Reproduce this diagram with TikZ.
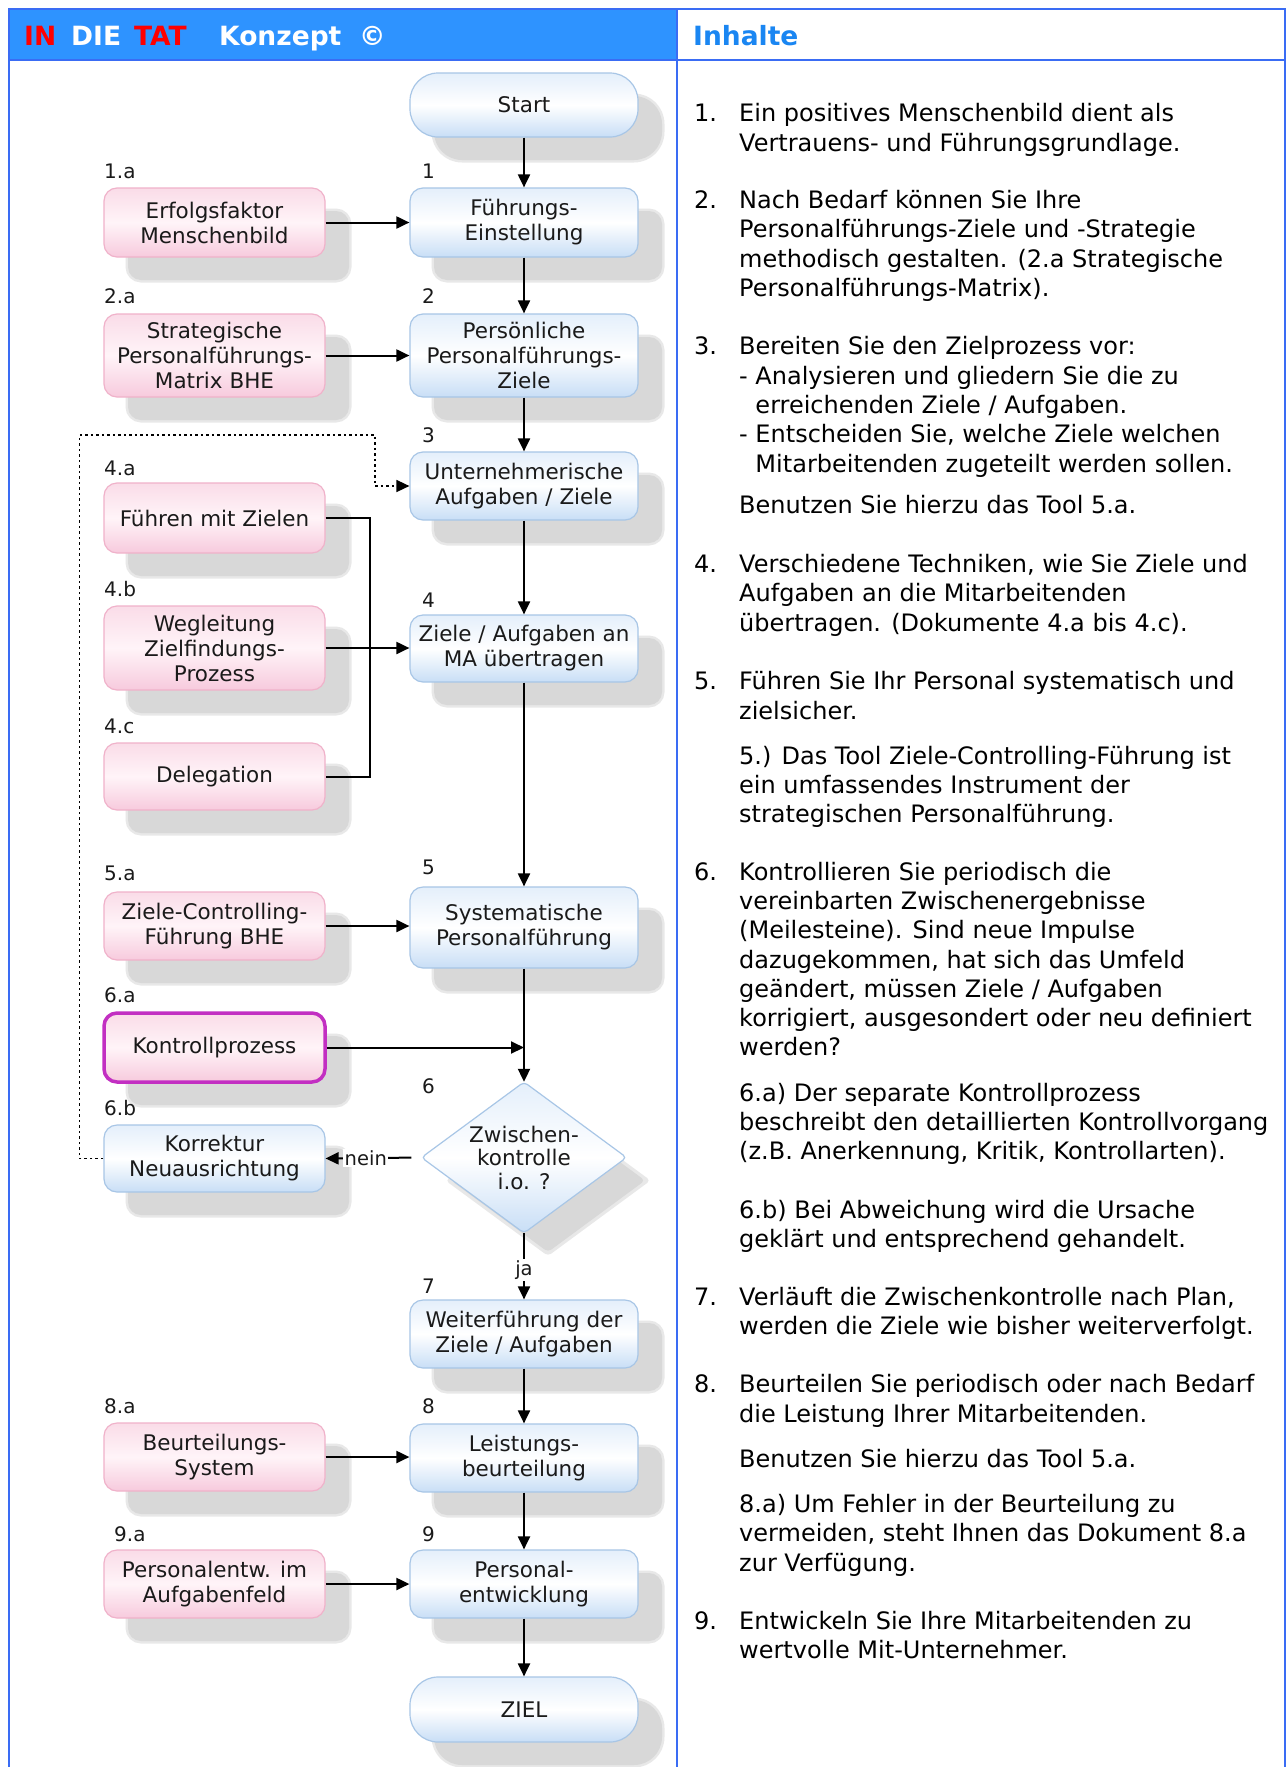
\documentclass[tikz,border=0pt]{standalone}
\usepackage{fontspec}
\setmainfont{DejaVu Sans}
\usetikzlibrary{arrows.meta,calc,shadows}
\definecolor{hdrblue}{HTML}{2E93FF}
\definecolor{framebl}{HTML}{3A6CF4}
\definecolor{inhblue}{HTML}{1A86F2}
\definecolor{blueT}{HTML}{E4EFFB}
\definecolor{blueB}{HTML}{C8DEF6}
\definecolor{blueD}{HTML}{A8C6E6}
\definecolor{pinkT}{HTML}{FADCE8}
\definecolor{pinkM}{HTML}{FFF4F8}
\definecolor{pinkB}{HTML}{F7CADD}
\definecolor{pinkD}{HTML}{F0B2CA}
\definecolor{shadc}{HTML}{D8D8D8}
\definecolor{shadl}{HTML}{E8E8E8}
\definecolor{magb}{HTML}{C22FC2}
\definecolor{txt}{HTML}{1A1A1A}
\begin{document}
\begin{tikzpicture}[x=1pt,y=-1pt,
  dtext/.style={font=\fontsize{21.5}{25}\selectfont, text=txt, align=center, inner sep=0pt},
  lbl/.style={font=\fontsize{20}{22}\selectfont, text=txt, inner sep=0pt, anchor=base west},
  shadowed/.style={drop shadow={shadow xshift=24pt, shadow yshift=-23pt, fill=shadl, draw=shadl, line width=5pt, opacity=1},
                   drop shadow={shadow xshift=24pt, shadow yshift=-23pt, fill=shadc, opacity=1}},
  bluebox/.style={dtext, shadowed, rectangle, rounded corners=13pt, draw=blueD, line width=1.2pt,
                  top color=blueT, bottom color=blueB, middle color=white, minimum width=228pt, minimum height=68pt},
  pinkbox/.style={dtext, shadowed, rectangle, rounded corners=13pt, draw=pinkD, line width=1.2pt,
                  top color=pinkT, bottom color=pinkB, middle color=pinkM, minimum width=221pt, minimum height=68pt},
  capsule/.style={bluebox, rounded corners=28pt},
  conn/.style={draw=black, line width=2pt, -{Triangle[length=13pt,width=12pt]}},
  plainline/.style={draw=black, line width=2pt},
  dotconn/.style={draw=black, line width=1.6pt, dash pattern=on 2.5pt off 3pt, -{Triangle[length=13pt,width=12pt]}},
  hdr/.style={font=\fontsize{26.5}{30}\selectfont\bfseries, inner sep=0pt, anchor=base west},
  rtext/.style={font=\fontsize{24}{29}\selectfont, text=black, inner sep=0pt, anchor=base west},
  elab/.style={font=\fontsize{19.5}{22}\selectfont, text=txt, fill=white, inner sep=1.5pt}
]
\useasboundingbox (0,0) rectangle (1287,1767);
\fill[white] (0,0) rectangle (1287,1767);

% header and frame
\fill[hdrblue] (9,9) rectangle (677,60);
\draw[framebl, line width=2.5pt] (9,1767) -- (9,9) -- (1285,9) -- (1285,1767);
\draw[framebl, line width=2.5pt] (9,60) -- (1285,60);
\draw[framebl, line width=2.5pt] (677,9) -- (677,1767);
\node[hdr, text=red] (h1) at (24,45) {IN};
\node[hdr, text=white] (h2) at (71,45) {DIE};
\node[hdr, text=red] (h3) at (134,45) {TAT};
\node[hdr, text=white] (h4) at (219,45) {Konzept};
\node[hdr, text=white] (h5) at (359,45) {©};
\node[hdr, text=inhblue] (h6) at (693,45) {Inhalte};

% main column
\node[capsule, minimum height=64pt] (start) at (524,105) {Start};
\node[bluebox, minimum height=69pt] (b1) at (524,222.5) {Führungs-\\Einstellung};
\node[bluebox, minimum height=83pt] (b2) at (524,355.5) {Persönliche\\Personalführungs-\\Ziele};
\node[bluebox, minimum height=68pt] (b3) at (524,486) {Unternehmerische\\Aufgaben / Ziele};
\node[bluebox, minimum height=67pt] (b4) at (524,648.5) {Ziele / Aufgaben an\\MA übertragen};
\node[bluebox, minimum height=81pt] (b5) at (524,927.5) {Systematische\\Personalführung};
% diamond
\fill[shadl, rounded corners=4pt] (548,1105) -- (650.5,1180.5) -- (548,1256) -- (445.5,1180.5) -- cycle;
\fill[shadc, rounded corners=4pt] (548,1109) -- (645,1180.5) -- (548,1252) -- (451,1180.5) -- cycle;
\path[draw=blueD, line width=1.2pt, top color=blueT, bottom color=blueB, middle color=white, rounded corners=4pt]
  (524,1082) -- (626.5,1157.5) -- (524,1233) -- (421.5,1157.5) -- cycle;
\node[dtext, font=\fontsize{21.5}{23.5}\selectfont, minimum width=205pt, minimum height=151pt] (dia) at (524,1157.5) {Zwischen-\\kontrolle\\i.o. ?};
\node[bluebox, minimum height=68pt] (b7) at (524,1334) {Weiterführung der\\Ziele / Aufgaben};
\node[bluebox, minimum height=68pt] (b8) at (524,1458) {Leistungs-\\beurteilung};
\node[bluebox, minimum height=68pt] (b9) at (524,1584) {Personal-\\entwicklung};
\node[capsule, minimum height=65pt] (ziel) at (524,1709.5) {ZIEL};

% left column
\node[pinkbox, minimum height=69pt] (a1) at (214.5,222.5) {Erfolgsfaktor\\Menschenbild};
\node[pinkbox, minimum height=83pt] (a2) at (214.5,355.5) {Strategische\\Personalführungs-\\Matrix BHE};
\node[pinkbox, minimum height=70pt] (a4a) at (214.5,518) {Führen mit Zielen};
\node[pinkbox, minimum height=84pt] (a4b) at (214.5,648) {Wegleitung\\Zielfindungs-\\Prozess};
\node[pinkbox, minimum height=67pt] (a4c) at (214.5,776.5) {Delegation};
\node[pinkbox, minimum height=68pt] (a5) at (214.5,926) {Ziele-Controlling-\\Führung BHE};
\node[pinkbox, draw=magb, line width=3.5pt, minimum height=69pt] (a6) at (214.5,1047.5) {Kontrollprozess};
\node[bluebox, minimum width=221pt, minimum height=67pt] (kor) at (214.5,1158.5) {Korrektur\\Neuausrichtung};
\node[pinkbox, minimum height=68pt] (a8) at (214.5,1457) {Beurteilungs-\\System};
\node[pinkbox, minimum height=68pt] (a9) at (214.5,1584) {Personalentw. im\\Aufgabenfeld};

% number labels
\node[lbl] (l1a) at (104,178) {1.a};
\node[lbl] (l1) at (422,178) {1};
\node[lbl] (l2a) at (104,303) {2.a};
\node[lbl] (l2) at (422,303) {2};
\node[lbl] (l3) at (422,442) {3};
\node[lbl] (l4a) at (104,475) {4.a};
\node[lbl] (l4b) at (104,596) {4.b};
\node[lbl] (l4) at (422,607) {4};
\node[lbl] (l4c) at (104,733) {4.c};
\node[lbl] (l5a) at (104,880) {5.a};
\node[lbl] (l5) at (422,874) {5};
\node[lbl] (l6a) at (104,1002) {6.a};
\node[lbl] (l6) at (422,1093) {6};
\node[lbl] (l6b) at (104,1115) {6.b};
\node[lbl] (l7) at (422,1293) {7};
\node[lbl] (l8a) at (104,1413) {8.a};
\node[lbl] (l8) at (422,1413) {8};
\node[lbl] (l9a) at (114,1541) {9.a};
\node[lbl] (l9) at (422,1541) {9};

% connectors
\draw[conn] (start) -- (b1);
\draw[conn] (b1) -- (b2);
\draw[conn] (b2) -- (b3);
\draw[conn] (b3) -- (b4);
\draw[conn] (b4) -- (b5);
\draw[conn] (b5) -- (dia.north);
\draw[conn] (dia.south) -- node[elab, pos=0.55] {ja} (b7);
\draw[conn] (b7) -- (b8);
\draw[conn] (b8) -- (b9);
\draw[conn] (b9) -- (ziel);
\draw[conn] (a1) -- (b1);
\draw[conn] (a2) -- (b2);
\draw[conn] (a4b.east) -- (a4b.east -| b4.west);
\draw[conn] (a5.east) -- (a5.east -| b5.west);
\draw[conn] (a8.east) -- (a8.east -| b8.west);
\draw[conn] (a9) -- (b9);
\draw[plainline] (a4a.east) -- ++(44,0) |- (a4c.east);
\coordinate (j6) at (b5.south |- a6.east);
\draw[conn] (a6.east) -- (j6);
\draw[conn, shorten <=10pt] (dia.west) -- node[elab, pos=0.58] {nein} (kor.east);
\coordinate (dtop) at (375,435);
\draw[dotconn] (kor.west) -- ++(-24,0) |- (dtop) |- (b3.west);

% right column text
\foreach \n/\c in {1/100,2/177,3/307,4/500,5/604,6/773,7/1150,8/1228,9/1438}
  \node[rtext] (n\n) at (694,{1.127*\c+9}) {\n.};
\foreach \c/\t in {
  100/{Ein positives Menschenbild dient als},
  126/{Vertrauens- und Führungsgrundlage.},
  177/{Nach Bedarf können Sie Ihre},
  203/{Personalführungs-Ziele und -Strategie},
  229/{methodisch gestalten. (2.a Strategische},
  255/{Personalführungs-Matrix).},
  307/{Bereiten Sie den Zielprozess vor:},
  333/{- Analysieren und gliedern Sie die zu},
  359/{\phantom{- }erreichenden Ziele / Aufgaben.},
  385/{- Entscheiden Sie, welche Ziele welchen},
  411/{\phantom{- }Mitarbeitenden zugeteilt werden sollen.},
  448/{Benutzen Sie hierzu das Tool 5.a.},
  500/{Verschiedene Techniken, wie Sie Ziele und},
  526/{Aufgaben an die Mitarbeitenden},
  552/{übertragen. (Dokumente 4.a bis 4.c).},
  604/{Führen Sie Ihr Personal systematisch und},
  630/{zielsicher.},
  670/{5.) Das Tool Ziele-Controlling-Führung ist},
  696/{ein umfassendes Instrument der},
  722/{strategischen Personalführung.},
  773/{Kontrollieren Sie periodisch die},
  799/{vereinbarten Zwischenergebnisse},
  825/{(Meilesteine). Sind neue Impulse},
  851/{dazugekommen, hat sich das Umfeld},
  877/{geändert, müssen Ziele / Aufgaben},
  903/{korrigiert, ausgesondert oder neu definiert},
  929/{werden?},
  969/{6.a) Der separate Kontrollprozess},
  995/{beschreibt den detaillierten Kontrollvorgang},
  1021/{(z.B. Anerkennung, Kritik, Kontrollarten).},
  1073/{6.b) Bei Abweichung wird die Ursache},
  1099/{geklärt und entsprechend gehandelt.},
  1150/{Verläuft die Zwischenkontrolle nach Plan,},
  1176/{werden die Ziele wie bisher weiterverfolgt.},
  1228/{Beurteilen Sie periodisch oder nach Bedarf},
  1254/{die Leistung Ihrer Mitarbeitenden.},
  1294/{Benutzen Sie hierzu das Tool 5.a.},
  1334/{8.a) Um Fehler in der Beurteilung zu},
  1360/{vermeiden, steht Ihnen das Dokument 8.a},
  1386/{zur Verfügung.},
  1438/{Entwickeln Sie Ihre Mitarbeitenden zu},
  1464/{wertvolle Mit-Unternehmer.}}
  \node[rtext] (r\c) at (739,{1.127*\c+9}) {\t};
\end{tikzpicture}
\end{document}
